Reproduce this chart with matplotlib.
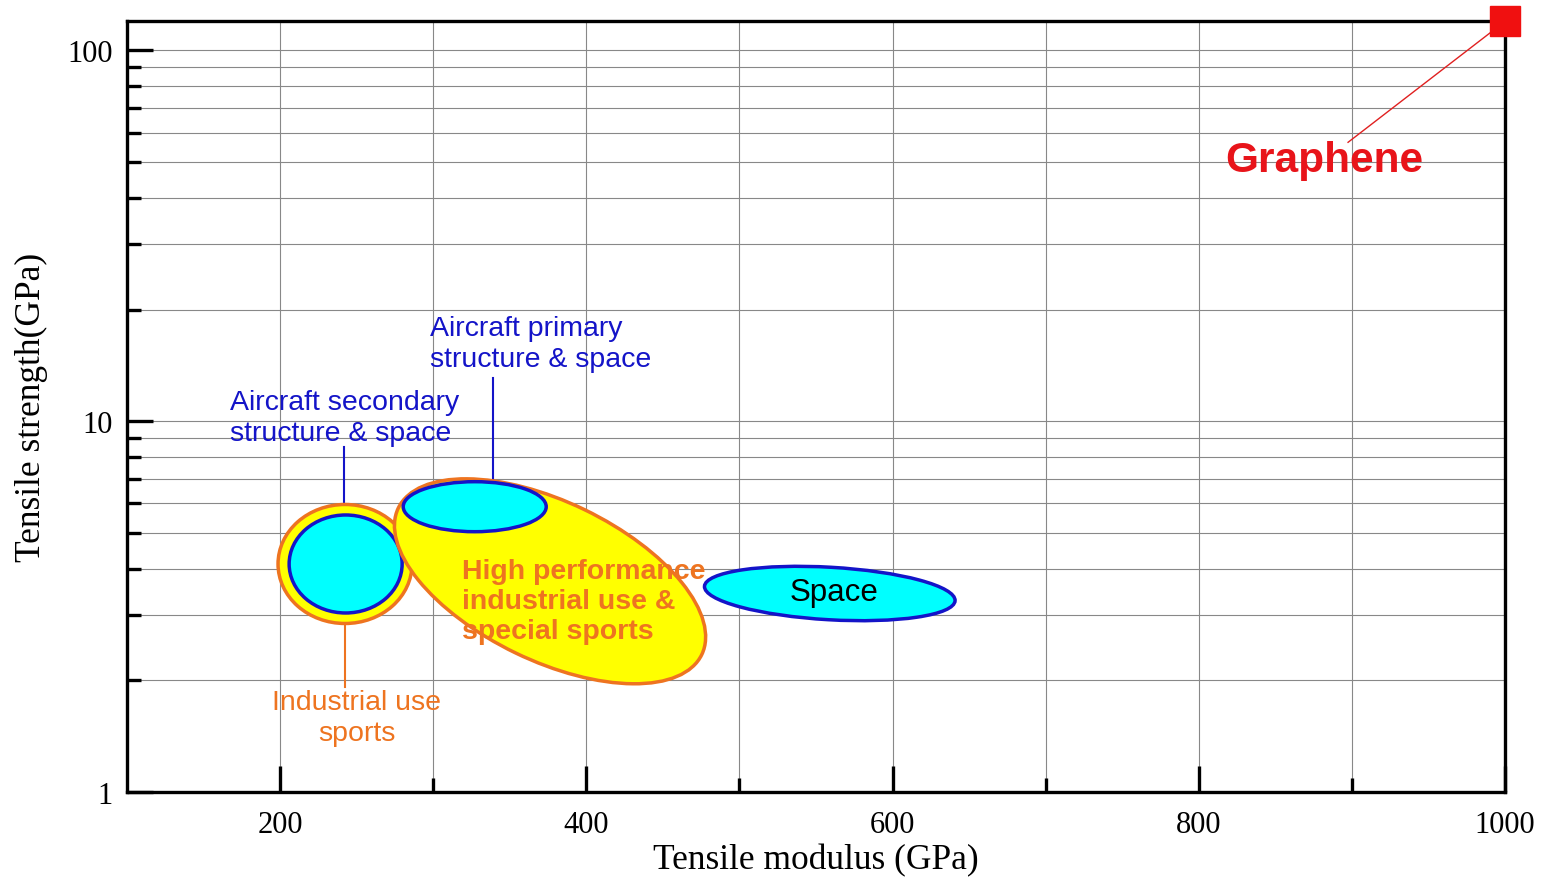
import numpy as np
import matplotlib.pyplot as plt
from matplotlib.patches import Ellipse
from matplotlib.transforms import ScaledTranslation
from matplotlib.ticker import FixedLocator, NullFormatter

# fibre classes: centre (modulus GPa, strength GPa)
region_names = ["Industrial use outer", "Industrial use inner", "High performance",
                "Aircraft primary", "Space"]
region_modulus = [242.4, 242.8, 376.3, 327.1, 559.0]
region_strength = [4.12, 4.12, 3.70, 5.88, 3.43]

graphene_modulus = 1000
graphene_strength = 120

x_ticks = [200, 400, 600, 800, 1000]
x_minor = [300, 500, 700, 900]
y_ticks = [1, 10, 100]

ORANGE = "#EE7420"
BLUE = "#1414C8"

plt.rcParams['font.family'] = ['Liberation Sans', 'DejaVu Sans']

fig = plt.figure(figsize=(15.46, 8.78), dpi=100)
ax = fig.add_axes([127/1546, 1-793/878, 1378/1546, 771/878])
ax.set_yscale('log')
ax.set_xlim(100, 1000)
ax.set_ylim(1, 120)

# grid
for v in range(100, 1001, 100):
    ax.axvline(v, color='#888888', lw=0.8, zorder=0)
for dec in [1, 10]:
    for m in range(1, 10):
        ax.axhline(dec*m, color='#888888', lw=0.8, zorder=0)
ax.axhline(100, color='#888888', lw=0.8, zorder=0)

# ellipses: size in pixels (w, h), angle, face, edge
shapes = [(134, 119, 0, 'yellow', ORANGE),
          (113, 98, 0, 'cyan', BLUE),
          (337, 159, -25.8, 'yellow', ORANGE),
          (143, 50, 0, 'cyan', BLUE),
          (251, 52.5, -3.3, 'cyan', BLUE)]
for (w, h, ang, fc, ec), xm, ys in zip(shapes, region_modulus, region_strength):
    tr = fig.dpi_scale_trans + ScaledTranslation(xm, ys, ax.transData)
    e = Ellipse((0, 0), w/100, h/100, angle=ang, transform=tr,
                facecolor=fc, edgecolor=ec, lw=2.5, zorder=3)
    ax.add_patch(e)

# leader lines
ax.plot([241.7, 241.7], [8.51, 5.58], color=BLUE, lw=1.5, zorder=2)
ax.plot([339.0, 339.0], [13.1, 6.85], color=BLUE, lw=1.5, zorder=2)
ax.plot([242.4, 242.4], [2.84, 1.92], color=ORANGE, lw=1.5, zorder=2)
ax.plot([897.5, 991.5], [56.5, 112.5], color='#E02020', lw=1.0, zorder=2)

# labels
ax.text(297.9, 16.23, "Aircraft primary\nstructure & space", color=BLUE,
        fontsize=20.5, ha='left', va='center', linespacing=1.25, zorder=5)
ax.text(167.3, 10.22, "Aircraft secondary\nstructure & space", color=BLUE,
        fontsize=20.5, ha='left', va='center', linespacing=1.25, zorder=5)
ax.text(250.2, 1.593, "Industrial use\nsports", color=ORANGE, fontsize=20.5,
        ha='center', va='center', multialignment='center', linespacing=1.25, zorder=5)
ax.text(318.8, 3.273, "High performance\nindustrial use &\nspecial sports", color=ORANGE,
        fontsize=20.5, fontweight='bold', ha='left', va='center', linespacing=1.2, zorder=5)
ax.text(561.8, 3.46, "Space", color='black', fontsize=22.5, ha='center', va='center', zorder=5)
ax.text(881.8, 50.5, "Graphene", color='#E8141A', fontsize=30.5, fontweight='bold',
        ha='center', va='center', zorder=5)

ax.plot([graphene_modulus], [graphene_strength], marker='s', ms=22, color='#F01010',
        mec='#F01010', clip_on=False, zorder=6)

# axes styling
for s in ax.spines.values():
    s.set_linewidth(2.4)
ax.xaxis.set_major_locator(FixedLocator(x_ticks))
ax.xaxis.set_minor_locator(FixedLocator(x_minor))
ax.yaxis.set_major_locator(FixedLocator(y_ticks))
ax.yaxis.set_minor_locator(FixedLocator([d*m for d in [1, 10] for m in range(2, 10)]))
ax.yaxis.set_minor_formatter(NullFormatter())
ax.set_yticklabels(["1", "10", "100"])
ax.tick_params(which='major', direction='in', length=19, width=2.4, top=False, right=False)
ax.tick_params(which='minor', direction='in', length=10, width=2.4, top=False, right=False)
ax.tick_params(axis='y', which='major', pad=10)
ax.tick_params(axis='x', which='major', pad=13)
for lbl in ax.get_xticklabels() + ax.get_yticklabels():
    lbl.set_fontfamily('Liberation Serif')
    lbl.set_fontsize(22)

ax.set_xlabel("Tensile modulus (GPa)", fontfamily='Liberation Serif', fontsize=25.5, labelpad=3)
ax.set_ylabel("Tensile strength(GPa)", fontfamily='Liberation Serif', fontsize=25.5, labelpad=14)

fig.savefig("out.png", dpi=100)
